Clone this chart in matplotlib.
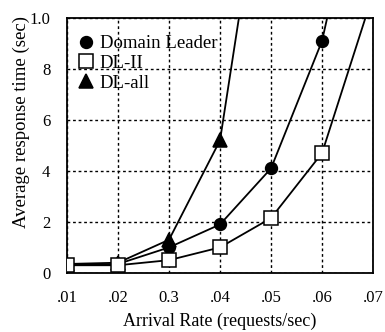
import matplotlib.pyplot as plt
import numpy as np

plt.rcParams['font.family'] = ['Liberation Serif', 'DejaVu Serif']

rate_labels = ['.01', '.02', '0.3', '.04', '.05', '.06', '.07']
rate_pos = [1, 2, 3, 4, 5, 6, 7]

leader_y = [0.3, 0.35, 1.0, 1.9, 4.1, 9.1]
dl2_y = [0.3, 0.3, 0.5, 1.0, 2.15, 4.7]
dlall_y = [0.35, 0.4, 1.3, 5.2]

# where each curve leaves the top of the plot
leader_tail = (6.1, 10.0)
dl2_tail = (6.85, 10.0)
dlall_tail = (4.37, 10.0)

fig = plt.figure(figsize=(3.85, 3.32), dpi=100)
ax = fig.add_axes([0.174, 0.178, 0.795, 0.768])

def draw(ys, tail, marker, face, ms, label, z):
    xs = rate_pos[:len(ys)]
    ax.plot(list(xs) + [tail[0]], list(ys) + [tail[1]], color='black', lw=1.3, zorder=z)
    ax.plot(xs, ys, ls='none', marker=marker, mfc=face, mec='black', mew=1.1,
            ms=ms, label=label, zorder=z + 1)

draw(leader_y, leader_tail, 'o', 'black', 8.5, 'Domain Leader', 3)
draw(dl2_y, dl2_tail, 's', 'white', 9.5, 'DL-II', 5)
draw(dlall_y, dlall_tail, '^', 'black', 10, 'DL-all', 1)

ax.set_xlim(1, 7)
ax.set_ylim(0, 10)
ax.set_xticks(rate_pos)
ax.set_xticklabels(rate_labels)
ax.set_yticks([0, 2, 4, 6, 8, 10])
ax.set_yticklabels(['0', '2', '4', '6', '8', '1.0'])
ax.tick_params(length=0, labelsize=12, pad=12)
ax.grid(True, ls=(0, (2, 2)), color='black', lw=1.0)
for s in ax.spines.values():
    s.set_linewidth(1.3)

ax.set_xlabel('Arrival Rate (requests/sec)', fontsize=13, labelpad=5)
ax.set_ylabel('Average response time (sec)', fontsize=13.5)
ax.yaxis.set_label_coords(-0.12, 0.59)

ax.legend(loc='upper left', frameon=False, fontsize=13.5, handletextpad=0.25,
          borderaxespad=0.1, labelspacing=0.15, handlelength=1.0,
          bbox_to_anchor=(0.0, 0.97))

fig.savefig('out.png', dpi=100)
